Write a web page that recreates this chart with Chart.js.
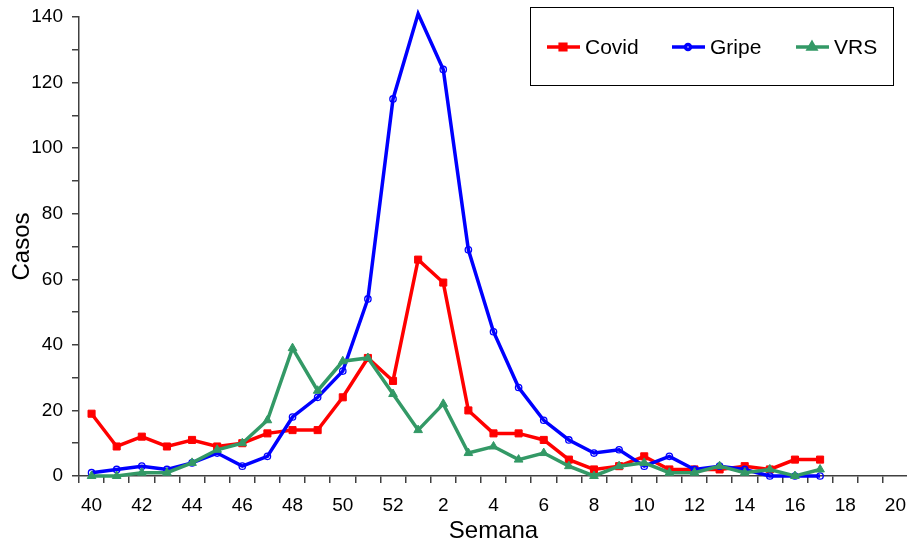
<!DOCTYPE html>
<html>
<head>
<meta charset="utf-8">
<script src="https://cdn.jsdelivr.net/npm/chart.js@4"></script>
<style>
  html, body { margin: 0; padding: 0; background: #fff; overflow: hidden; }
  #wrap { width: 914px; height: 543px; position: relative; }
</style>
</head>
<body>
<div id="wrap"><canvas id="chart"></canvas></div>
<script>
// Semanas epidemiológicas (40..52, depois 1..20)
const weeks = [40, 41, 42, 43, 44, 45, 46, 47, 48, 49, 50, 51, 52,
  1, 2, 3, 4, 5, 6, 7, 8, 9, 10, 11, 12, 13, 14, 15, 16, 17, 18, 19, 20];

const covid = [19, 9, 12, 9, 11, 9, 10, 13, 14, 14, 24, 36, 29,
  66, 59, 20, 13, 13, 11, 5, 2, 3, 6, 2, 2, 2, 3, 2, 5, 5];
const gripe = [1, 2, 3, 2, 4, 7, 3, 6, 18, 24, 32, 54, 115,
  141, 124, 69, 44, 27, 17, 11, 7, 8, 3, 6, 2, 3, 2, 0, 0, 0];
const vrs = [0, 0, 1, 1, 4, 8, 10, 17, 39, 26, 35, 36, 25,
  14, 22, 7, 9, 5, 7, 3, 0, 3, 4, 1, 1, 3, 1, 2, 0, 2];

const yTicks = [0, 20, 40, 60, 80, 100, 120, 140];
const Y_MAX = 140;

const COLORS = {
  covid: '#FF0000',
  gripe: '#0000FF',
  vrs: '#339966',
  axis: '#404040',
  text: '#000000'
};

const FONT = '"Liberation Sans", Arial, sans-serif';
Chart.defaults.font.family = FONT;
Chart.defaults.color = COLORS.text;

// Legenda com moldura dentro da área do gráfico
const boxLegend = {
  id: 'boxLegend',
  afterDraw(chart) {
    const ctx = chart.ctx;
    const x0 = 530, y0 = 7, w = 363, h = 78;
    const starts = [547, 672, 796];
    const marks = [
      { pointStyle: 'rect', radius: 4, fill: true },
      { pointStyle: 'circle', radius: 2.5, fill: false },
      { pointStyle: 'triangle', radius: 4, fill: true }
    ];
    const cy = 47;
    ctx.save();
    ctx.fillStyle = '#fff';
    ctx.fillRect(x0, y0, w, h);
    ctx.strokeStyle = '#000';
    ctx.lineWidth = 1;
    ctx.strokeRect(x0 + 0.5, y0 + 0.5, w, h);
    chart.data.datasets.forEach((ds, i) => {
      const sx = starts[i];
      ctx.strokeStyle = ds.borderColor;
      ctx.lineWidth = 3.5;
      ctx.beginPath();
      ctx.moveTo(sx, cy);
      ctx.lineTo(sx + 33, cy);
      ctx.stroke();
      ctx.fillStyle = marks[i].fill ? ds.borderColor : '#fff';
      ctx.strokeStyle = ds.borderColor;
      Chart.helpers.drawPoint(ctx, {
        pointStyle: marks[i].pointStyle,
        radius: marks[i].radius,
        borderWidth: 1.3
      }, sx + 16, cy);
      ctx.fillStyle = COLORS.text;
      ctx.font = '21px ' + FONT;
      ctx.textBaseline = 'middle';
      ctx.fillText(ds.label, sx + 38, cy + 1);
    });
    ctx.restore();
  }
};

new Chart(document.getElementById('chart'), {
  type: 'line',
  data: {
    labels: weeks,
    datasets: [
      {
        label: 'Covid',
        data: covid,
        borderColor: COLORS.covid,
        backgroundColor: COLORS.covid,
        pointBackgroundColor: COLORS.covid,
        pointBorderColor: COLORS.covid,
        pointStyle: 'rect',
        pointRadius: 5,
        pointBorderWidth: 1,
        borderWidth: 3.5,
        tension: 0,
        clip: false,
        order: 3
      },
      {
        label: 'Gripe',
        data: gripe,
        borderColor: COLORS.gripe,
        backgroundColor: COLORS.gripe,
        pointBackgroundColor: 'rgba(0,0,0,0)',
        pointBorderColor: COLORS.gripe,
        pointStyle: 'circle',
        // o ponto acima do eixo (pico) fica sem marcador, como no original
        pointRadius: (c) => c.raw > Y_MAX ? 0 : 3.2,
        pointBorderWidth: 1.3,
        borderWidth: 3.5,
        tension: 0,
        clip: false,
        order: 2
      },
      {
        label: 'VRS',
        data: vrs,
        borderColor: COLORS.vrs,
        backgroundColor: COLORS.vrs,
        pointBackgroundColor: COLORS.vrs,
        pointBorderColor: COLORS.vrs,
        pointStyle: 'triangle',
        pointRadius: 5,
        pointBorderWidth: 1,
        borderWidth: 3.5,
        tension: 0,
        clip: false,
        order: 1
      }
    ]
  },
  options: {
    responsive: true,
    maintainAspectRatio: false,
    animation: false,
    layout: { padding: { top: 17, right: 0, left: 0, bottom: 0 } },
    plugins: {
      legend: { display: false },
      tooltip: { enabled: false }
    },
    scales: {
      x: {
        offset: true,
        grid: {
          offset: true,
          drawOnChartArea: false,
          tickLength: 7,
          color: COLORS.axis,
          lineWidth: 1.5
        },
        border: { color: COLORS.axis, width: 1.5 },
        ticks: {
          autoSkip: false,
          maxRotation: 0,
          padding: 11,
          font: { size: 19 },
          callback: (value, index) => index % 2 === 0 ? weeks[index] : ''
        },
        title: {
          display: true,
          text: 'Semana',
          font: { size: 24 },
          padding: { top: 0, bottom: -3 }
        },
        afterFit: (scale) => {
          scale.height = 67;
          scale.paddingLeft = 0;
          scale.paddingRight = 0;
        }
      },
      y: {
        min: 0,
        max: Y_MAX,
        grid: {
          drawOnChartArea: false,
          tickLength: 7,
          color: COLORS.axis,
          lineWidth: 1.5
        },
        border: { color: COLORS.axis, width: 1.5 },
        ticks: {
          stepSize: 10,
          padding: 9,
          font: { size: 19 },
          callback: (value) => yTicks.includes(value) ? value : ''
        },
        title: {
          display: true,
          text: 'Casos',
          font: { size: 24 },
          padding: { top: 8, bottom: 0 }
        },
        afterFit: (scale) => {
          scale.width = 79;
          scale.paddingTop = 0;
          scale.paddingBottom = 0;
        }
      }
    }
  },
  plugins: [boxLegend]
});
</script>
</body>
</html>
